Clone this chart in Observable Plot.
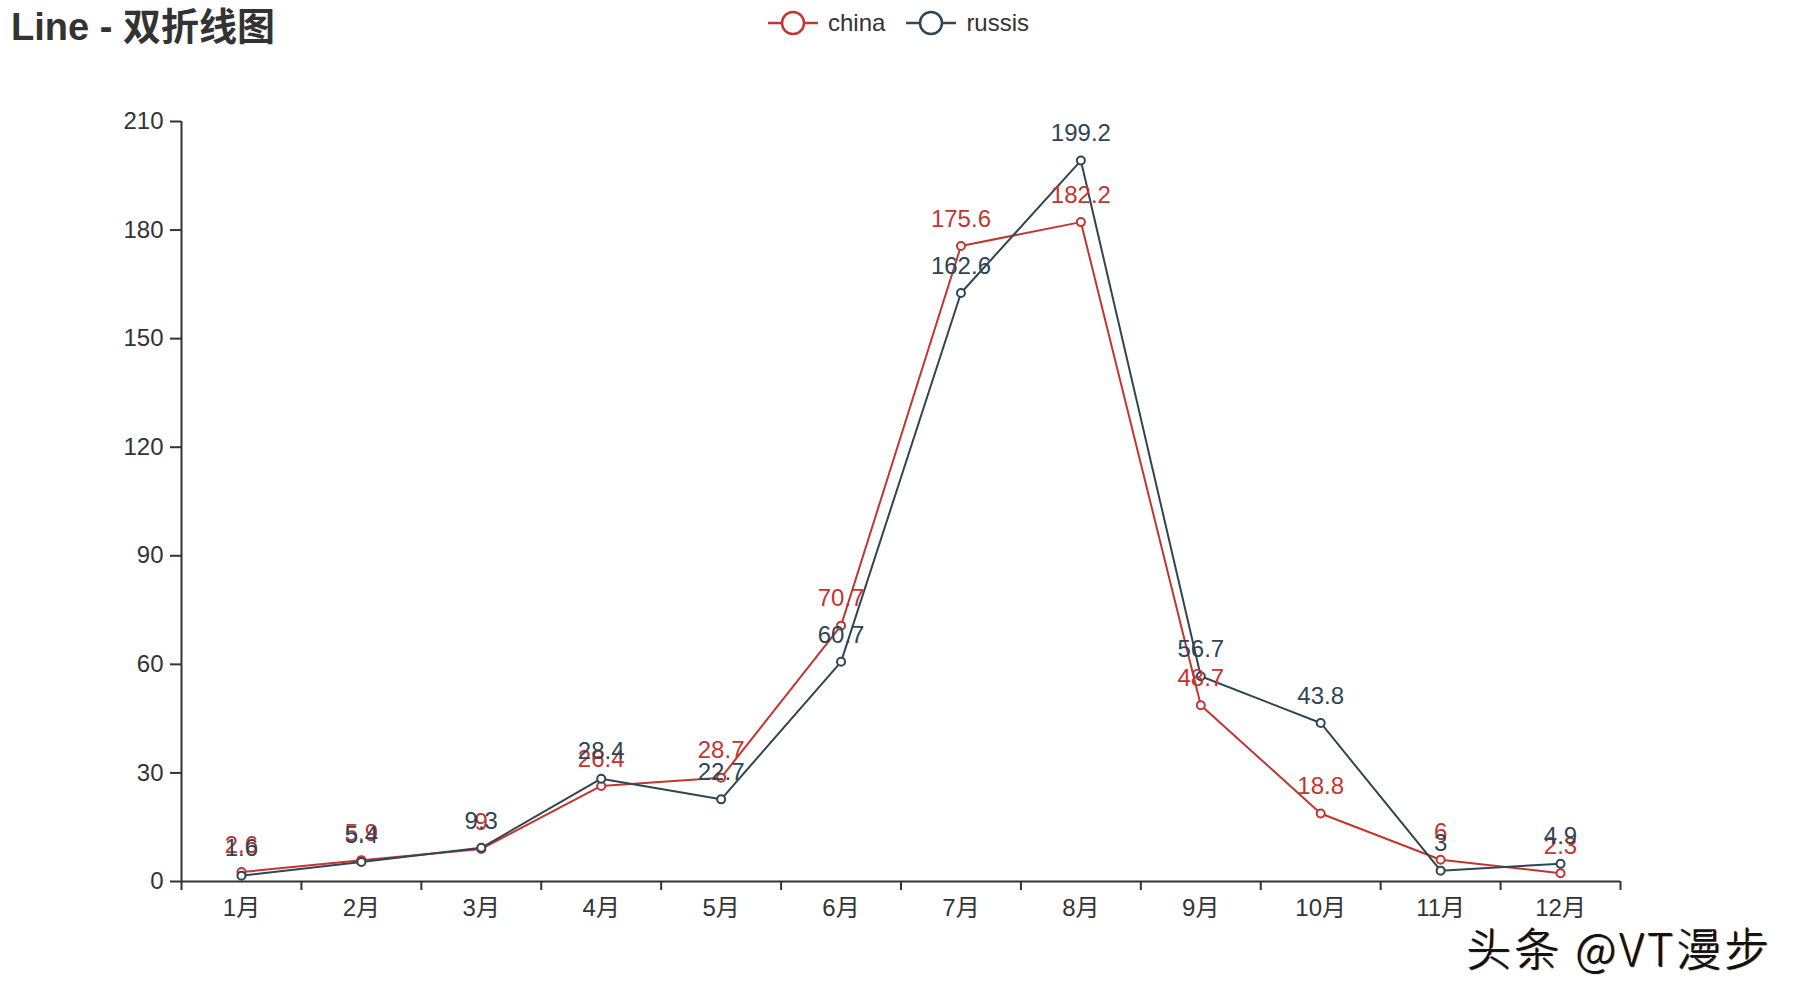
<!DOCTYPE html>
<html>
<head>
<meta charset="utf-8">
<script src="https://cdn.jsdelivr.net/npm/d3@7"></script>
<script src="https://cdn.jsdelivr.net/npm/@observablehq/plot@0.6"></script>
<style>
  body { margin: 0; background: #fff; font-family: "Liberation Sans", "Noto Sans CJK SC", sans-serif; }
  #wrap { position: relative; width: 1800px; height: 1000px; overflow: hidden; background: #fff; }
  #chart { position: absolute; left: 0; top: 0; }
  #title { position: absolute; left: 11px; top: 6px; font-size: 38px; font-weight: bold; color: #333; line-height: 42px; white-space: nowrap; }
  #legend { position: absolute; left: 768px; top: 0; height: 46px; display: flex; align-items: center; font-size: 24px; color: #333; }
  .item { display: flex; align-items: center; }
  .item + .item { margin-left: 21px; }
  .item span { margin-left: 10px; }
  #mark { position: absolute; left: 1466px; top: 922px; font-size: 45px; line-height: 50px; color: #111; font-family: "Noto Sans CJK SC", sans-serif; font-weight: 300; letter-spacing: 3px; text-shadow: -1px -1px 0 #fff, 1px 1px 1px #000; white-space: nowrap; }
</style>
</head>
<body>
<div id="wrap">
  <div id="chart"></div>
  <div id="title"></div>
  <div id="legend"></div>
  <div id="mark"></div>
</div>
<script>
const titleText = "Line - 双折线图";
const watermark = "头条 @VT漫步";
const months = ["1月","2月","3月","4月","5月","6月","7月","8月","9月","10月","11月","12月"];
const seriesNames = ["china", "russis"];
const seriesColors = ["#c23531", "#2f4554"];
const china = [2.6, 5.9, 9, 26.4, 28.7, 70.7, 175.6, 182.2, 48.7, 18.8, 6, 2.3];
const russis = [1.6, 5.4, 9.3, 28.4, 22.7, 60.7, 162.6, 199.2, 56.7, 43.8, 3, 4.9];
const yTicks = [0, 30, 60, 90, 120, 150, 180, 210];

const seriesValues = [china, russis];
const rowsBySeries = seriesNames.map((name, s) =>
  months.map((m, i) => ({ month: m, pos: i + 0.5, value: seriesValues[s][i], series: name }))
);

const marks = [];
// axes
marks.push(Plot.ruleY([0], { stroke: "#333", strokeWidth: 2 }));
marks.push(Plot.ruleX([0], { stroke: "#333", strokeWidth: 2 }));
marks.push(Plot.axisY({ ticks: yTicks, tickSize: 11, tickPadding: 7, tickFormat: d => String(d), label: null, stroke: "#333", strokeWidth: 2, fontSize: 24 }));
marks.push(Plot.axisX({ ticks: d3.range(months.length + 1), tickSize: 9, tickFormat: () => "", label: null, stroke: "#333", strokeWidth: 2 }));
marks.push(Plot.axisX({ ticks: months.map((_, i) => i + 0.5), tickSize: 0, tickPadding: 17, tickFormat: d => months[Math.floor(d)], label: null, fontSize: 24 }));
// lines
rowsBySeries.forEach((rows, s) => {
  marks.push(Plot.line(rows, { x: "pos", y: "value", stroke: seriesColors[s], strokeWidth: 2 }));
});
rowsBySeries.forEach((rows, s) => {
  marks.push(Plot.dot(rows, { x: "pos", y: "value", r: 4, fill: "#fff", stroke: seriesColors[s], strokeWidth: 2 }));
});
rowsBySeries.forEach((rows, s) => {
  marks.push(Plot.text(rows, { x: "pos", y: "value", text: d => String(d.value), dy: -27, fill: seriesColors[s], fontSize: 24 }));
});

const chart = Plot.plot({
  width: 1800,
  height: 1000,
  marginLeft: 181,
  marginRight: 180,
  marginTop: 121,
  marginBottom: 119,
  style: { fontFamily: "'Liberation Sans', 'Noto Sans CJK SC', sans-serif", fontSize: "24px", color: "#333", background: "transparent", overflow: "visible" },
  x: { type: "linear", domain: [0, months.length] },
  y: { type: "linear", domain: [0, 210] },
  marks
});
document.getElementById("chart").appendChild(chart);

document.getElementById("title").textContent = titleText;
document.getElementById("mark").textContent = watermark;

const legend = document.getElementById("legend");
seriesNames.forEach((name, s) => {
  const item = document.createElement("div");
  item.className = "item";
  const ns = "http://www.w3.org/2000/svg";
  const svg = document.createElementNS(ns, "svg");
  svg.setAttribute("width", 50);
  svg.setAttribute("height", 28);
  const line = document.createElementNS(ns, "line");
  line.setAttribute("x1", 0); line.setAttribute("x2", 50);
  line.setAttribute("y1", 14); line.setAttribute("y2", 14);
  line.setAttribute("stroke", seriesColors[s]); line.setAttribute("stroke-width", 2.5);
  const c = document.createElementNS(ns, "circle");
  c.setAttribute("cx", 25); c.setAttribute("cy", 14); c.setAttribute("r", 11);
  c.setAttribute("fill", "#fff"); c.setAttribute("stroke", seriesColors[s]); c.setAttribute("stroke-width", 2.5);
  svg.appendChild(line); svg.appendChild(c);
  const label = document.createElement("span");
  label.textContent = name;
  item.appendChild(svg); item.appendChild(label);
  legend.appendChild(item);
});
</script>
</body>
</html>
